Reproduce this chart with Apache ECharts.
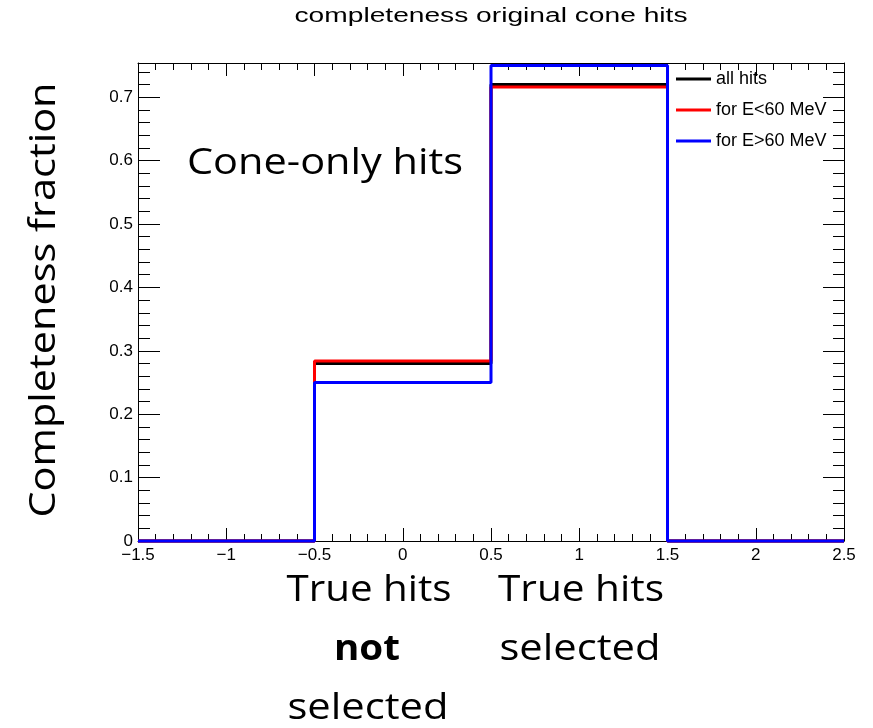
<!DOCTYPE html>
<html>
<head>
<meta charset="utf-8">
<script src="https://cdn.jsdelivr.net/npm/echarts@6/dist/echarts.min.js"></script>
<style>
  html, body { margin: 0; padding: 0; background: #fff; }
  #chart { width: 873px; height: 728px; }
</style>
</head>
<body>
<div id="chart"></div>
<script>
// Histogram bin edges and per-bin completeness fractions
const binEdges = [-1.5, -0.5, 0.5, 1.5, 2.5];
const allHits  = [0, 0.28, 0.72, 0];
const lowE     = [0, 0.284, 0.716, 0];
const highE    = [0, 0.25, 0.75, 0];

const seriesNames = ['all hits', 'for E<60 MeV', 'for E>60 MeV'];

// Axis tick values
const xTicks = [-1.5, -1, -0.5, 0, 0.5, 1, 1.5, 2, 2.5];
const yTicks = [0, 0.1, 0.2, 0.3, 0.4, 0.5, 0.6, 0.7];
const yMinorTicks = [0.02, 0.04, 0.06, 0.08, 0.12, 0.14, 0.16, 0.18, 0.22, 0.24, 0.26, 0.28,
  0.32, 0.34, 0.36, 0.38, 0.42, 0.44, 0.46, 0.48, 0.52, 0.54, 0.56, 0.58,
  0.62, 0.64, 0.66, 0.68, 0.72, 0.74];
const yMax = 0.754;

// Step outline of a histogram: one point per left bin edge plus the last edge
function histPoints(vals) {
  const pts = vals.map((v, i) => [binEdges[i], v]);
  pts.push([binEdges[binEdges.length - 1], vals[vals.length - 1]]);
  return pts;
}

const rootFont = '"Liberation Sans", Arial, Helvetica, sans-serif';
const noteFont = '"Open Sans", "Noto Sans", sans-serif';

// Horizontal scale needed to make a string span a given width
const measureCtx = document.createElement('canvas').getContext('2d');
function fitScale(text, font, width) {
  measureCtx.font = font;
  return width / measureCtx.measureText(text).width;
}

function note(text, cx, cy, width, size, weight, rotation) {
  const font = (weight || 'normal') + ' ' + size + 'px ' + noteFont;
  return {
    type: 'text',
    x: cx, y: cy,
    rotation: rotation || 0,
    scaleX: fitScale(text, font, width),
    silent: true,
    style: {
      text: text,
      font: font,
      fill: '#000',
      textAlign: 'center',
      textVerticalAlign: 'middle'
    }
  };
}

const titleText = 'completeness original cone hits';
const titleFontStr = 'normal 20px ' + rootFont;

const axisLine = { show: true, onZero: false, lineStyle: { color: '#000', width: 1 } };
const noLine = { show: false, onZero: false };
const labelStyle = { color: '#000', fontSize: 17, fontFamily: rootFont };
const fmtNum = v => String(+Number(v).toFixed(2)).replace('-', '\u2212');

function xAxisDef(pos, showLabels) {
  return {
    type: 'value', position: pos,
    min: -1.5, max: 2.5, interval: 0.5,
    axisLine: axisLine,
    splitLine: { show: false },
    axisTick: { show: true, inside: true, length: 13, lineStyle: { color: '#000', width: 1 } },
    minorTick: { show: true, splitNumber: 5, length: 7, lineStyle: { color: '#000', width: 1 } },
    axisLabel: showLabels ? Object.assign({ show: true, margin: 6, formatter: fmtNum }, labelStyle) : { show: false }
  };
}

function yAxisDef(pos, ticks, len, showLine, showLabels) {
  return {
    type: 'value', position: pos, offset: 0,
    min: 0, max: yMax,
    axisLine: showLine ? axisLine : noLine,
    splitLine: { show: false },
    axisTick: { show: true, inside: true, length: len, customValues: ticks, lineStyle: { color: '#000', width: 1 } },
    axisLabel: showLabels
      ? Object.assign({ show: true, margin: 5, customValues: ticks, formatter: fmtNum }, labelStyle)
      : { show: false }
  };
}

const colors = ['#000000', '#ff0000', '#0000ff'];
const values = [allHits, lowE, highE];

const chart = echarts.init(document.getElementById('chart'), null, { renderer: 'canvas' });
chart.setOption({
  backgroundColor: '#ffffff',
  animation: false,
  grid: { left: 138, right: 29, top: 63, bottom: 187, containLabel: false },
  xAxis: [xAxisDef('bottom', true), xAxisDef('top', false)],
  yAxis: [
    yAxisDef('left', yTicks, 22, true, true),
    yAxisDef('left', yMinorTicks, 12, false, false),
    yAxisDef('right', yTicks, 21, true, false),
    yAxisDef('right', yMinorTicks, 11, false, false)
  ],
  legend: {
    orient: 'vertical',
    left: 676, top: 69,
    padding: 0,
    itemGap: 11,
    itemWidth: 35, itemHeight: 3,
    icon: 'rect',
    textStyle: { color: '#000', fontSize: 18, fontFamily: rootFont, lineHeight: 20 },
    data: seriesNames
  },
  series: seriesNames.map((name, i) => ({
    name: name,
    type: 'line',
    step: 'end',
    xAxisIndex: 0, yAxisIndex: 0,
    symbol: 'none',
    clip: false,
    color: colors[i],
    lineStyle: { color: colors[i], width: 3 },
    data: histPoints(values[i])
  })),
  graphic: [
    {
      type: 'text', x: 491, y: 16, silent: true,
      scaleX: fitScale(titleText, titleFontStr, 393),
      style: { text: titleText, font: titleFontStr, fill: '#000', textAlign: 'center', textVerticalAlign: 'middle' }
    },
    note('Completeness fraction', 44, 300, 435, 37, 'normal', Math.PI / 2),
    note('Cone-only hits', 325, 164, 276, 36),
    note('True hits', 369, 591, 165, 36),
    note('not', 367, 650, 66, 36, 'bold'),
    note('selected', 368, 709, 161, 36),
    note('True hits', 581, 591, 166, 36),
    note('selected', 580, 650, 161, 36)
  ]
});
</script>
</body>
</html>
